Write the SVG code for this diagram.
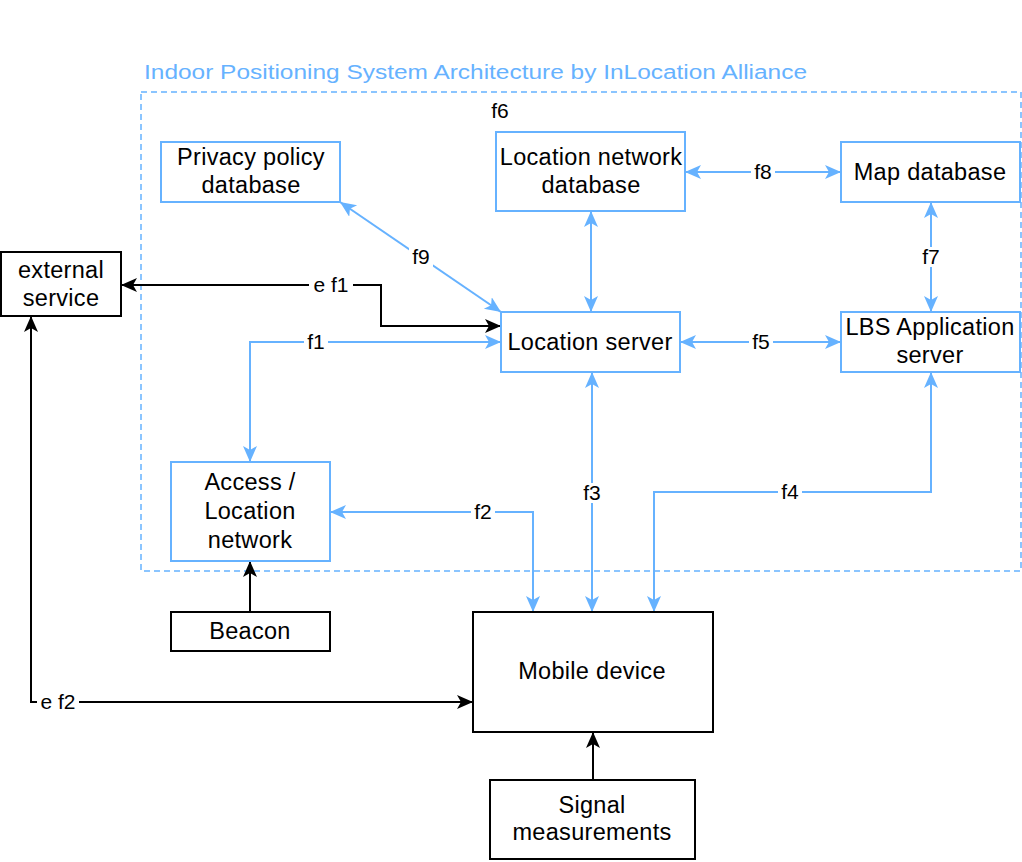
<svg xmlns="http://www.w3.org/2000/svg" width="1022" height="862" viewBox="0 0 1022 862">
<style>
.bn{fill:#fff;stroke:#66B2FF;stroke-width:2}
.kn{fill:#fff;stroke:#000;stroke-width:2}
text{font-family:"Liberation Sans",Arial,sans-serif;fill:#000}
.t{font-size:23.5px;letter-spacing:0.3px;text-anchor:middle}
.l{font-size:21px;text-anchor:middle}
.bl{fill:none;stroke:#66B2FF;stroke-width:2}
.kl{fill:none;stroke:#000;stroke-width:2}
.lb{fill:#fff;stroke:none}
</style>
<defs>
<marker id="ab" markerUnits="userSpaceOnUse" markerWidth="17" markerHeight="15" refX="16" refY="7" orient="auto-start-reverse" viewBox="0 0 17 15"><path d="M0,0 L16,7 L0,14 L4,7 Z" fill="#66B2FF"/></marker>
<marker id="ak" markerUnits="userSpaceOnUse" markerWidth="17" markerHeight="15" refX="16" refY="7" orient="auto-start-reverse" viewBox="0 0 17 15"><path d="M0,0 L16,7 L0,14 L4,7 Z" fill="#000"/></marker>
</defs>
<rect width="1022" height="862" fill="#fff"/>
<g id="container">
<rect x="141" y="92" width="880" height="479" fill="none" stroke="#66B2FF" stroke-width="1.5" stroke-dasharray="6 4"/>
<text x="144" y="79" font-size="20" style="fill:#66B2FF" textLength="663" lengthAdjust="spacingAndGlyphs">Indoor Positioning System Architecture by InLocation Alliance</text>
</g>
<g id="connectors">
<path class="bl" d="M685,172 H841" marker-start="url(#ab)" marker-end="url(#ab)"/>
<path class="bl" d="M591,211 V312" marker-start="url(#ab)" marker-end="url(#ab)"/>
<path class="bl" d="M931,202 V312" marker-start="url(#ab)" marker-end="url(#ab)"/>
<path class="bl" d="M340,202 L501,312" marker-start="url(#ab)" marker-end="url(#ab)"/>
<path class="kl" d="M501,326 H381 V285 H121" marker-start="url(#ak)" marker-end="url(#ak)"/>
<path class="bl" d="M501,342 H250 V462" marker-start="url(#ab)" marker-end="url(#ab)"/>
<path class="bl" d="M680,342 H841" marker-start="url(#ab)" marker-end="url(#ab)"/>
<path class="bl" d="M592,372 V612" marker-start="url(#ab)" marker-end="url(#ab)"/>
<path class="bl" d="M533,612 V512 H330" marker-start="url(#ab)" marker-end="url(#ab)"/>
<path class="bl" d="M931,372 V492 H654 V612" marker-start="url(#ab)" marker-end="url(#ab)"/>
<path class="kl" d="M250,612 V561" marker-end="url(#ak)"/>
<path class="kl" d="M593,780 V732" marker-end="url(#ak)"/>
<path class="kl" d="M473,702 H31 V316" marker-start="url(#ak)" marker-end="url(#ak)"/>
<g id="labels">
<text class="l" x="500" y="118">f6</text>
<rect class="lb" x="751" y="162" width="24" height="20"/><text class="l" x="763" y="179">f8</text>
<rect class="lb" x="919" y="247" width="24" height="20"/><text class="l" x="931" y="264">f7</text>
<rect class="lb" x="409" y="247" width="24" height="20"/><text class="l" x="421" y="264">f9</text>
<rect class="lb" x="309" y="275" width="44" height="20"/><text class="l" x="331" y="292">e f1</text>
<rect class="lb" x="304" y="332" width="24" height="20"/><text class="l" x="316" y="349">f1</text>
<rect class="lb" x="749" y="332" width="24" height="20"/><text class="l" x="761" y="349">f5</text>
<rect class="lb" x="580" y="483" width="24" height="20"/><text class="l" x="592" y="500">f3</text>
<rect class="lb" x="471" y="502" width="24" height="20"/><text class="l" x="483" y="519">f2</text>
<rect class="lb" x="778" y="482" width="24" height="20"/><text class="l" x="790" y="499">f4</text>
<rect class="lb" x="37" y="692" width="42" height="20"/><text class="l" x="58" y="709">e f2</text>
</g>
</g>
<g id="privacy"><rect class="bn" x="161" y="142" width="179" height="60"/><text class="t" x="251" y="165">Privacy policy</text><text class="t" x="251" y="193">database</text></g>
<g id="locnetdb"><rect class="bn" x="496" y="132" width="189" height="79"/><text class="t" x="591" y="165">Location network</text><text class="t" x="591" y="193">database</text></g>
<g id="mapdb"><rect class="bn" x="841" y="142" width="179" height="60"/><text class="t" x="930" y="180">Map database</text></g>
<g id="external"><rect class="kn" x="1" y="252" width="120" height="64"/><text class="t" x="61" y="278">external</text><text class="t" x="61" y="306">service</text></g>
<g id="locserver"><rect class="bn" x="501" y="312" width="179" height="60"/><text class="t" x="590" y="350">Location server</text></g>
<g id="lbs"><rect class="bn" x="841" y="312" width="179" height="60"/><text class="t" x="930" y="335">LBS Application</text><text class="t" x="930" y="363">server</text></g>
<g id="access"><rect class="bn" x="171" y="462" width="159" height="99"/><text class="t" x="250" y="490">Access /</text><text class="t" x="250" y="519">Location</text><text class="t" x="250" y="548">network</text></g>
<g id="beacon"><rect class="kn" x="171" y="612" width="159" height="39"/><text class="t" x="250" y="639">Beacon</text></g>
<g id="mobile"><rect class="kn" x="473" y="612" width="240" height="120"/><text class="t" x="592" y="679">Mobile device</text></g>
<g id="signal"><rect class="kn" x="490" y="780" width="205" height="79"/><text class="t" x="592" y="813">Signal</text><text class="t" x="592" y="840">measurements</text></g>
</svg>
